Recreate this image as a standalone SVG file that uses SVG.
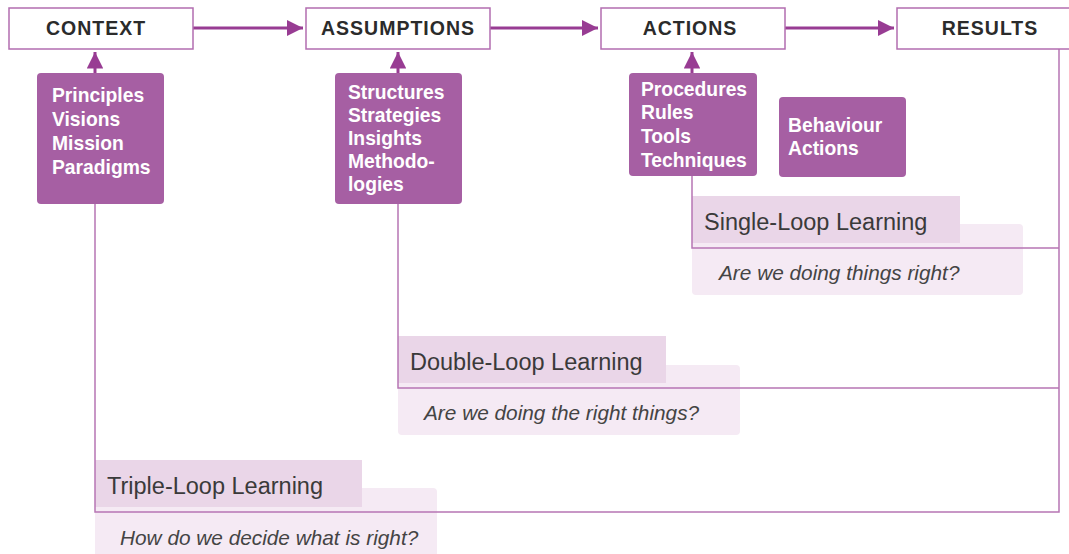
<svg xmlns="http://www.w3.org/2000/svg" width="1069" height="554" viewBox="0 0 1069 554">
<defs>
<style>
.top{fill:#fff;stroke:#b26db0;stroke-width:1.5}
.toptxt{font-family:"Liberation Sans",Arial,sans-serif;font-weight:bold;font-size:19.5px;fill:#2b2b2b;letter-spacing:1px;text-anchor:middle}
.pbox{fill:#a65fa3}
.ptxt{font-family:"Liberation Sans",Arial,sans-serif;font-weight:bold;font-size:19.3px;fill:#fff}
.flow{stroke:#983c93;stroke-width:3;fill:none}
.loop{stroke:#b775b4;stroke-width:1.5;fill:none}
.lab{fill:#ead6e8}
.q{fill:#f5eaf4}
.labtxt{font-family:"Liberation Sans",Arial,sans-serif;font-size:23.5px;fill:#3a3a3a}
.qtxt{font-family:"Liberation Sans",Arial,sans-serif;font-style:italic;font-size:20.8px;fill:#444}
</style>
<marker id="ah" viewBox="0 0 10 10" refX="10" refY="5" markerWidth="5.5" markerHeight="5.5" markerUnits="strokeWidth" orient="auto">
<path d="M0,0 L10,5 L0,10 Z" fill="#983c93"/>
</marker>
</defs>

<g id="loop-labels">
<rect class="q" x="692" y="224" width="331" height="71" rx="4"/>
<rect class="lab" x="692" y="196" width="268" height="47"/>
<text class="labtxt" x="704" y="230">Single-Loop Learning</text>
<text class="qtxt" x="719" y="280">Are we doing things right?</text>

<rect class="q" x="398" y="365" width="342" height="70" rx="4"/>
<rect class="lab" x="398" y="336" width="268" height="47"/>
<text class="labtxt" x="410" y="370">Double-Loop Learning</text>
<text class="qtxt" x="424" y="420">Are we doing the right things?</text>

<rect class="q" x="95" y="488" width="342" height="70" rx="4"/>
<rect class="lab" x="95" y="460" width="267" height="47"/>
<text class="labtxt" x="107" y="494">Triple-Loop Learning</text>
<text class="qtxt" x="120" y="545">How do we decide what is right?</text>
</g>

<g id="connectors">
<path class="flow" d="M193,28 H303" marker-end="url(#ah)"/>
<path class="flow" d="M490,28 H598" marker-end="url(#ah)"/>
<path class="flow" d="M785,28 H894" marker-end="url(#ah)"/>
<path class="flow" d="M95,73 V52" marker-end="url(#ah)"/>
<path class="flow" d="M398,73 V52" marker-end="url(#ah)"/>
<path class="flow" d="M692,73 V52" marker-end="url(#ah)"/>
<path class="loop" d="M692,176 V248 H1059"/>
<path class="loop" d="M398,204 V388 H1059"/>
<path class="loop" d="M95,204 V512 H1059 V49"/>
</g>

<g id="context">
<rect class="top" x="9" y="8" width="184" height="41"/>
<text class="toptxt" x="96" y="35">CONTEXT</text>
</g>
<g id="assumptions">
<rect class="top" x="306" y="8" width="184" height="41"/>
<text class="toptxt" x="398" y="35">ASSUMPTIONS</text>
</g>
<g id="actions">
<rect class="top" x="601" y="8" width="184" height="41"/>
<text class="toptxt" x="690" y="35">ACTIONS</text>
</g>
<g id="results">
<rect class="top" x="897" y="8" width="190" height="41"/>
<text class="toptxt" x="990" y="35">RESULTS</text>
</g>

<g id="principles">
<rect class="pbox" x="37" y="73" width="127" height="131" rx="4"/>
<text class="ptxt" x="52" y="102">Principles</text>
<text class="ptxt" x="52" y="126">Visions</text>
<text class="ptxt" x="52" y="150">Mission</text>
<text class="ptxt" x="52" y="174">Paradigms</text>
</g>
<g id="structures">
<rect class="pbox" x="335" y="73" width="127" height="131" rx="4"/>
<text class="ptxt" x="348" y="99">Structures</text>
<text class="ptxt" x="348" y="122">Strategies</text>
<text class="ptxt" x="348" y="145">Insights</text>
<text class="ptxt" x="348" y="168">Methodo-</text>
<text class="ptxt" x="348" y="191">logies</text>
</g>
<g id="procedures">
<rect class="pbox" x="629" y="73" width="128" height="103" rx="4"/>
<text class="ptxt" x="641" y="96">Procedures</text>
<text class="ptxt" x="641" y="119">Rules</text>
<text class="ptxt" x="641" y="143">Tools</text>
<text class="ptxt" x="641" y="167">Techniques</text>
</g>
<g id="behaviour">
<rect class="pbox" x="779" y="97" width="127" height="80" rx="4"/>
<text class="ptxt" x="788" y="132">Behaviour</text>
<text class="ptxt" x="788" y="155">Actions</text>
</g>
</svg>
